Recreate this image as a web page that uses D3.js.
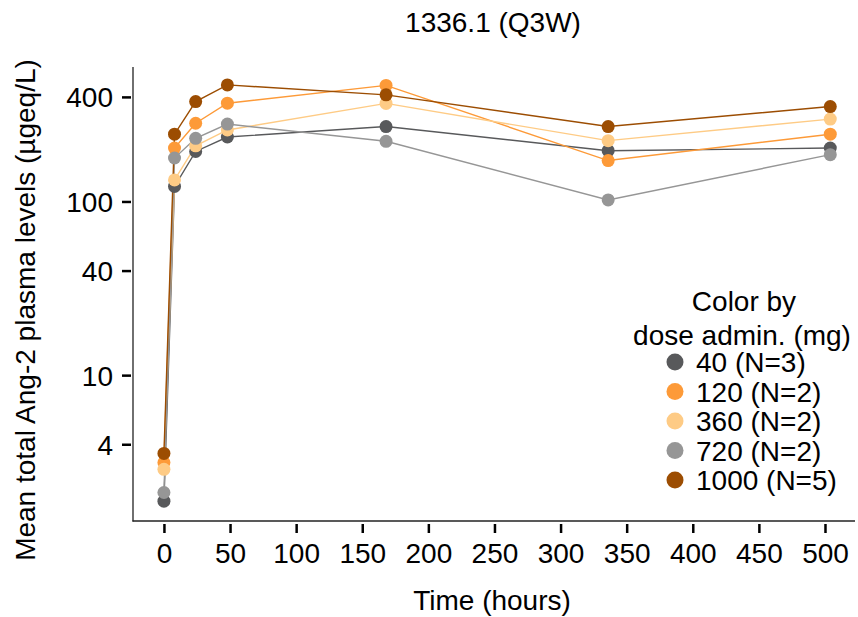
<!DOCTYPE html>
<html><head><meta charset="utf-8">
<script src="https://cdn.jsdelivr.net/npm/d3@7"></script>
<style>body{margin:0;background:#fff}svg{display:block;font-family:"Liberation Sans",Arial,sans-serif}</style>
</head><body><svg id="c" width="858" height="617"></svg>
<script>
const times = [0, 8, 24, 48, 168, 336, 504];
const doses = ["40 (N=3)", "120 (N=2)", "360 (N=2)", "720 (N=2)", "1000 (N=5)"];
const colors = ["#58595b", "#fd9a38", "#fecb85", "#969696", "#9c4d02"];
const dose40 = [1.88, 122, 194, 235, 270, 196, 203];
const dose120 = [3.14, 203, 282, 368, 466, 172, 244];
const dose360 = [2.87, 133, 209, 258, 367, 224, 298];
const dose720 = [2.11, 178, 231, 279, 222, 102, 186];
const dose1000 = [3.54, 244, 376, 469, 411, 270, 352];
const xTicks = [0, 50, 100, 150, 200, 250, 300, 350, 400, 450, 500];
const yTicks = [4, 10, 40, 100, 400];
const series = [dose40, dose120, dose360, dose720, dose1000];

const FS = 28;
const svg = d3.select("#c");
const x = d3.scaleLinear().domain([-23.4, 522.7]).range([133, 855]);
const y = d3.scaleLog().domain([1.446, 594.6]).range([521, 67]);

// axes
const xg = svg.append("g").attr("transform", "translate(0,521)")
  .call(d3.axisBottom(x).tickValues(xTicks).tickSize(0).tickPadding(0).tickFormat(d3.format("d")));
xg.select(".domain").remove();
xg.selectAll(".tick line").remove();
xg.selectAll(".tick").append("line").attr("y1", 3).attr("y2", 12).attr("stroke", "#000").attr("stroke-width", 2.5);
xg.selectAll(".tick text").attr("y", 42).attr("dy", null).attr("font-size", FS).attr("fill", "#000").attr("font-family", "Liberation Sans, Arial, sans-serif");

const yg = svg.append("g").attr("transform", "translate(133,0)")
  .call(d3.axisLeft(y).tickValues(yTicks).tickSize(0).tickPadding(0).tickFormat(d3.format("d")));
yg.select(".domain").remove();
yg.selectAll(".tick line").remove();
yg.selectAll(".tick").append("line").attr("x1", -2).attr("x2", -11).attr("stroke", "#000").attr("stroke-width", 2.5);
yg.selectAll(".tick text").attr("x", -20).attr("dy", "0.36em").attr("font-size", FS).attr("fill", "#000").attr("font-family", "Liberation Sans, Arial, sans-serif");

svg.append("line").attr("x1", 133).attr("x2", 133).attr("y1", 67).attr("y2", 521.5).attr("stroke", "#222").attr("stroke-width", 1.3);
svg.append("line").attr("x1", 132.5).attr("x2", 855).attr("y1", 521).attr("y2", 521).attr("stroke", "#222").attr("stroke-width", 1.3);

// lines + points
const line = d3.line().x((d, i) => x(times[i])).y(d => y(d));
series.forEach((s, k) => {
  svg.append("path").attr("d", line(s)).attr("fill", "none").attr("stroke", colors[k]).attr("stroke-width", 1.4);
});
series.forEach((s, k) => {
  svg.append("g").selectAll("circle").data(s).join("circle")
    .attr("cx", (d, i) => x(times[i])).attr("cy", d => y(d)).attr("r", 6.5).attr("fill", colors[k]);
});

// title and labels
svg.append("text").attr("x", 493).attr("y", 32).attr("text-anchor", "middle").attr("font-size", FS).text("1336.1 (Q3W)");
svg.append("text").attr("x", 492).attr("y", 610).attr("text-anchor", "middle").attr("font-size", FS).text("Time (hours)");
svg.append("text").attr("transform", "translate(35,310) rotate(-90)").attr("text-anchor", "middle").attr("font-size", FS).text("Mean total Ang-2 plasma levels (µgeq/L)");

// legend
svg.append("text").attr("x", 744).attr("y", 311).attr("text-anchor", "middle").attr("font-size", FS).text("Color by");
svg.append("text").attr("x", 742).attr("y", 345).attr("text-anchor", "middle").attr("font-size", FS).text("dose admin. (mg)");
const lg = svg.append("g").selectAll("g").data(doses).join("g")
  .attr("transform", (d, i) => `translate(675,${362 + i * 29.5})`);
lg.append("circle").attr("r", 8.5).attr("fill", (d, i) => colors[i]);
lg.append("text").attr("x", 21).attr("dy", "0.36em").attr("font-size", FS).text(d => d);
</script></body></html>
